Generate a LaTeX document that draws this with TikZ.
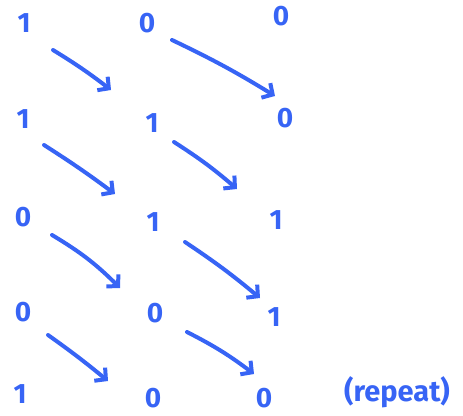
\documentclass[tikz,border=0pt]{standalone}
\usepackage{fontspec}
\setmainfont{Fira Sans}
\usetikzlibrary{arrows.meta}
\definecolor{ink}{RGB}{55,100,245}
\begin{document}
\begin{tikzpicture}[x=1pt,y=-1pt,
  digit/.style={text=ink, font=\fontsize{28}{32}\selectfont\bfseries, inner sep=0pt},
  flow/.style={draw=ink, line width=4pt, line cap=round, line join=round,
    -{Straight Barb[length=8pt,width=17pt]}}]
\useasboundingbox (0,0) rectangle (463,415);
% row 1
\node[digit] (r1c1) at (24,23) {1};
\node[digit] (r1c2) at (147,23) {0};
\node[digit] (r1c3) at (281,16) {0};
% row 2
\node[digit] (r2c1) at (23,119) {1};
\node[digit] (r2c2) at (152,123) {1};
\node[digit] (r2c3) at (285,118) {0};
% row 3
\node[digit] (r3c1) at (23,217) {0};
\node[digit] (r3c2) at (153,222) {1};
\node[digit] (r3c3) at (276,220) {1};
% row 4
\node[digit] (r4c1) at (23,312) {0};
\node[digit] (r4c2) at (155,313) {0};
\node[digit] (r4c3) at (274,317) {1};
% row 5
\node[digit] (r5c1) at (20,394) {1};
\node[digit] (r5c2) at (153,398) {0};
\node[digit] (r5c3) at (264,398) {0};
\node[digit, font=\fontsize{29}{32}\selectfont\bfseries] (rep) at (397,392) {(repeat)};
% arrows
\coordinate (a1s) at (53,50);   \coordinate (a1e) at (111,90);
\coordinate (a2s) at (172,40);  \coordinate (a2e) at (275,96);
\coordinate (a3s) at (44,145);  \coordinate (a3e) at (115,194);
\coordinate (a4s) at (174,142); \coordinate (a4e) at (237,189);
\coordinate (a5s) at (52,235);  \coordinate (a5e) at (120,288);
\coordinate (a6s) at (185,242); \coordinate (a6e) at (260,298);
\coordinate (a7s) at (48,335);  \coordinate (a7e) at (108,381);
\coordinate (a8s) at (187,332); \coordinate (a8e) at (254,374);
\draw[flow] (a1s) to[bend left=3] (a1e);
\draw[flow] (a2s) to[bend left=3] (a2e);
\draw[flow] (a3s) to[bend left=2] (a3e);
\draw[flow] (a4s) to[bend left=4] (a4e);
\draw[flow] (a5s) to[bend left=7] (a5e);
\draw[flow] (a6s) to[bend left=3] (a6e);
\draw[flow] (a7s) to[bend left=2] (a7e);
\draw[flow] (a8s) to[bend left=5] (a8e);
\end{tikzpicture}
\end{document}
